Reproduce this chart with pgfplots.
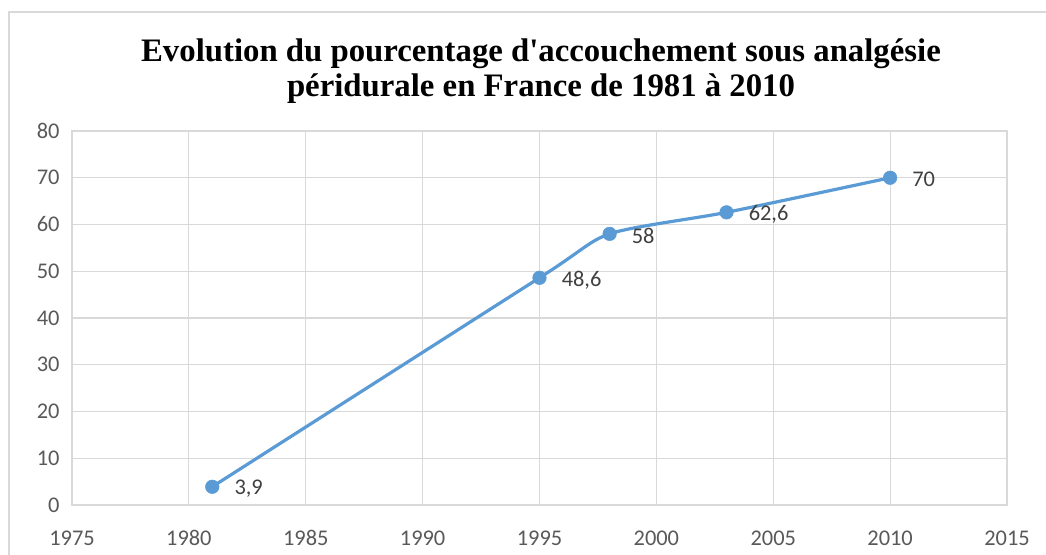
\documentclass[border=0pt]{standalone}
\usepackage{pgfplots}
\pgfplotsset{compat=1.18}
\usepackage{fontspec}
\setmainfont{Carlito}
\newfontfamily\titlefont{Liberation Serif}
\definecolor{lineblue}{HTML}{5B9BD5}
\definecolor{gridgray}{HTML}{D9D9D9}
\definecolor{ticktext}{HTML}{595959}
\definecolor{labeltext}{HTML}{404040}
\begin{document}
\begin{tikzpicture}
\useasboundingbox (0bp,0bp) rectangle (1046bp,555bp);
\draw[color=gridgray, line width=1.5bp] (9bp,-20bp) -- (9bp,543bp) -- (1080bp,543bp);
\node[font=\titlefont\bfseries\fontsize{32.9}{36}\selectfont, anchor=base, inner sep=0pt] at (541bp,493bp) {Evolution du pourcentage d'accouchement sous analgésie};
\node[font=\titlefont\bfseries\fontsize{32.9}{36}\selectfont, anchor=base, inner sep=0pt] at (541bp,458bp) {péridurale en France de 1981 à 2010};
\begin{axis}[
  at={(72bp,50bp)}, anchor=south west,
  scale only axis, width=935bp, height=374bp,
  xmin=1975, xmax=2015, ymin=0, ymax=80,
  xtick distance=5, ytick distance=10,
  grid=major,
  major grid style={color=gridgray, line width=1.2bp},
  axis line style={color=gridgray, line width=1.2bp},
  major tick length=0pt,
  /pgf/number format/assume math mode=true,
  /pgf/number format/set thousands separator={},
  tick label style={font=\fontsize{22.5}{26}\selectfont, text=ticktext},
  xticklabel style={yshift=-22bp},
  yticklabel style={xshift=-9bp},
  clip=false,
]
\addplot[color=lineblue, line width=3.2bp, smooth, tension=0.4,
  mark=*, mark size=6.8bp, mark options={fill=lineblue, draw=lineblue, line width=0.5bp},
  point meta=explicit symbolic,
  nodes near coords,
  every node near coord/.style={anchor=west, inner sep=0pt, xshift=22bp, yshift=-2bp,
     font=\fontsize{22.5}{26}\selectfont, text=labeltext},
] table[x=x, y=y, meta=label] {
x y label
1981 3.9 3,9
1995 48.6 48,6
1998 58 58
2003 62.6 62,6
2010 70 70
};
\end{axis}
\end{tikzpicture}
\end{document}
